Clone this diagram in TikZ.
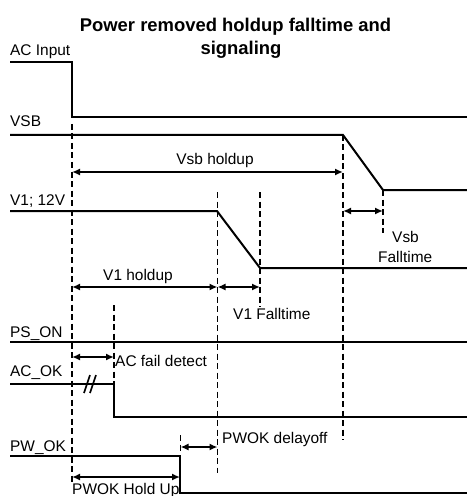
\documentclass[tikz,border=0pt]{standalone}
\usepackage{fontspec}
\setmainfont{Liberation Sans}
\usetikzlibrary{arrows.meta}
\begin{document}
\begin{tikzpicture}[x=1bp,y=-1bp,
  sig/.style={line width=2bp, line join=miter},
  guide/.style={line width=1.5bp, dash pattern=on 6bp off 3.5bp},
  dim/.style={line width=1.6bp, {Latex[length=8bp,width=7bp]}-{Latex[length=8bp,width=7bp]}},
  brk/.style={line width=1.6bp},
  lbl/.style={font=\fontsize{15.5}{18}\selectfont, inner sep=0pt},
  ttl/.style={font=\fontsize{18.5}{23}\selectfont\bfseries, inner sep=0pt}]
\useasboundingbox (0,0) rectangle (467,496);
% title
\node[ttl, anchor=base] (title1) at (235.5,32) {Power removed holdup falltime and};
\node[ttl, anchor=base] (title2) at (241,55) {signaling};
% signal names
\node[lbl, anchor=base west] (lacin) at (10,56) {AC Input};
\node[lbl, anchor=base west] (lvsb) at (10,127) {VSB};
\node[lbl, anchor=base west] (lv1) at (10,205) {V1; 12V};
\node[lbl, anchor=base west] (lpson) at (10,337) {PS\_ON};
\node[lbl, anchor=base west] (lacok) at (10,376) {AC\_OK};
\node[lbl, anchor=base west] (lpwok) at (10,451) {PW\_OK};
% waveforms
\draw[sig] (10,62) -- (72,62) -- (72,117) -- (467,117);
\draw[sig] (10,135) -- (343,135) -- (383,190) -- (467,190);
\draw[sig] (10,211) -- (217,211) -- (260,268) -- (467,268);
\draw[sig] (10,342) -- (467,342);
\draw[sig] (10,384) -- (114,384) -- (114,417) -- (467,417);
\draw[sig] (10,456) -- (180,456) -- (180,492.5) -- (467,492.5);
\draw[brk] (84,393) -- (90,375);
\draw[brk] (90,393) -- (96,375);
% guides
\draw[guide] (72,124) -- (72,483);
\draw[guide] (217.5,192) -- (217.5,473);
\draw[guide] (260,192) -- (260,307);
\draw[guide] (343,135) -- (343,440);
\draw[guide] (383,190) -- (383,233);
\draw[guide] (114,305) -- (114,384);
\draw[guide] (180.5,435) -- (180.5,452);
% dimension coordinates
\coordinate (vsbhA) at (72,172);
\coordinate (vsbhB) at (343,172);
\coordinate (vsbfA) at (343,211);
\coordinate (vsbfB) at (383,211);
\coordinate (v1hA) at (72,287);
\coordinate (v1hB) at (217.5,287);
\coordinate (v1fB) at (260,287);
\coordinate (acfA) at (72,357);
\coordinate (acfB) at (114,357);
\coordinate (pwdA) at (180.5,447);
\coordinate (pwdB) at (217.5,447);
\coordinate (pwhA) at (72,477);
\coordinate (pwhB) at (180,477);
\draw[dim] (vsbhA) -- (vsbhB);
\draw[dim] (vsbfA) -- (vsbfB);
\draw[dim] (v1hA) -- (v1hB);
\draw[dim] (v1hB) -- (v1fB);
\draw[dim] (acfA) -- (acfB);
\draw[dim] (pwdA) -- (pwdB);
\draw[dim] (pwhA) -- (pwhB);
% annotation labels
\node[lbl, anchor=base] (tvsbh) at (215,165) {Vsb holdup};
\node[lbl, anchor=base west] (tvsbf1) at (392,242) {Vsb};
\node[lbl, anchor=base west] (tvsbf2) at (378,262) {Falltime};
\node[lbl, anchor=base] (tv1h) at (138,280) {V1 holdup};
\node[lbl, anchor=base west] (tv1f) at (233,319) {V1 Falltime};
\node[lbl, anchor=base west] (tacf) at (115,366) {AC fail detect};
\node[lbl, anchor=base west] (tpwd) at (222,443) {PWOK delayoff};
\node[lbl, anchor=base west] (tpwh) at (72,494) {PWOK Hold Up};
\end{tikzpicture}
\end{document}
